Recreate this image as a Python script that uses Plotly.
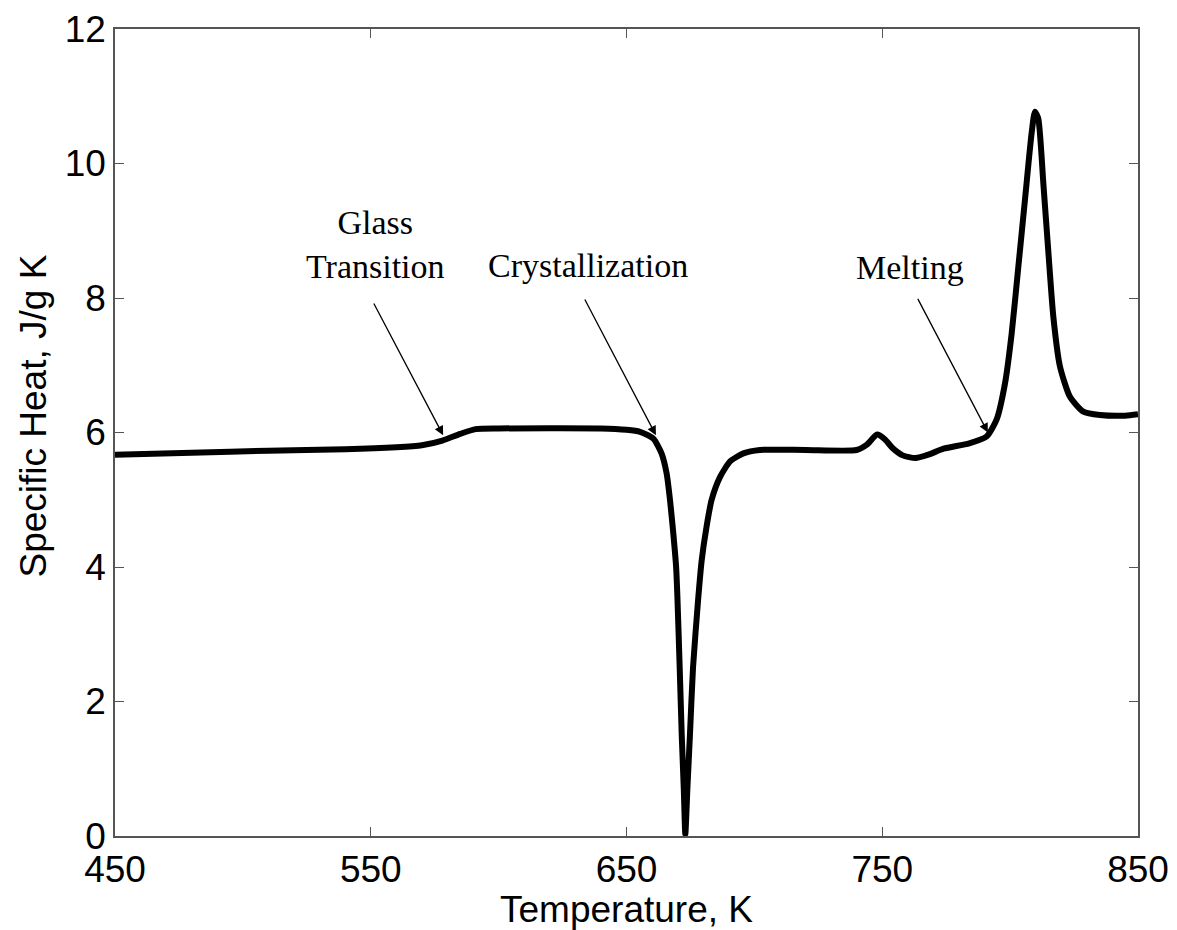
import plotly.graph_objects as go

temperature = [450, 480, 510, 540, 560, 570, 578, 585, 591, 600, 640, 650, 655.3, 660.5, 663.7,
               665.7, 667.0, 668.3, 669.4, 669.9, 670.8, 671.6, 672.4, 673, 673.8, 674.8, 676,
               678.1, 679.4, 681.3, 683.3, 686.6, 690.5, 695.7, 702.2, 720, 740, 744, 748, 751,
               754, 758, 763, 768, 774, 784, 790.8, 794.7, 798.0, 800.6, 803.2, 805.8, 808.4,
               809.7, 811.0, 813.0, 814.9, 816.9, 819.5, 823.4, 828.6, 835.1, 845, 850]
specific_heat = [5.67, 5.70, 5.73, 5.75, 5.78, 5.81, 5.88, 5.98, 6.05, 6.06, 6.06, 6.04, 6.01, 5.91,
                 5.69, 5.39, 5.0, 4.50, 4.0, 3.56, 2.5, 1.5, 0.7, 0.03, 0.7, 1.5, 2.5,
                 3.56, 4.10, 4.60, 5.0, 5.34, 5.57, 5.69, 5.74, 5.74, 5.74, 5.82, 5.97, 5.9,
                 5.77, 5.66, 5.62, 5.67, 5.76, 5.84, 5.94, 6.19, 6.73, 7.47, 8.46, 9.46, 10.45,
                 10.77, 10.67, 9.70, 8.71, 7.72, 6.98, 6.53, 6.31, 6.26, 6.25, 6.27]

x_ticks = [450, 550, 650, 750, 850]
y_ticks = [0, 2, 4, 6, 8, 10, 12]

labels = ["Glass<br>Transition", "Crystallization", "Melting"]
label_x = [551.7, 634.9, 760.9]
label_y = [8.8, 8.49, 8.46]
arrow_tip_x = [578.3, 661.5, 791.3]
arrow_tip_y = [5.96, 5.96, 6.0]
arrow_tail_x = [550.9, 633.4, 763.6]
arrow_tail_y = [7.94, 8.0, 8.01]

SANS = "Liberation Sans, Arial, sans-serif"
SERIF = "Liberation Serif, Times New Roman, serif"

fig = go.Figure()
fig.add_trace(go.Scatter(
    x=temperature, y=specific_heat, mode="lines",
    line=dict(color="black", width=6, shape="spline", smoothing=0.6),
    showlegend=False, hoverinfo="skip"))

annotations = []
for tx, ty, ax, ay in zip(arrow_tip_x, arrow_tip_y, arrow_tail_x, arrow_tail_y):
    annotations.append(dict(x=tx, y=ty, ax=ax, ay=ay, xref="x", yref="y", axref="x", ayref="y",
                            text="", showarrow=True, arrowhead=2, arrowsize=1.4, arrowwidth=1.3,
                            arrowcolor="black"))
for t, lx, ly in zip(labels, label_x, label_y):
    annotations.append(dict(x=lx, y=ly, xref="x", yref="y", text=t, showarrow=False,
                            xanchor="center", yanchor="middle",
                            font=dict(family=SERIF, size=34, color="black")))
annotations.append(dict(x=-0.080, y=0.520, xref="paper", yref="paper", text="Specific Heat, J/g K",
                        showarrow=False, textangle=-90, xanchor="center", yanchor="middle",
                        font=dict(family=SANS, size=37, color="black")))

axis_common = dict(showline=True, linecolor="#555555", linewidth=1.5, mirror="allticks",
                   ticks="inside", ticklen=9, tickwidth=1.3, tickcolor="#555555",
                   showgrid=False, zeroline=False,
                   tickfont=dict(family=SANS, size=37, color="black"))

fig.update_layout(
    width=1177, height=930,
    margin=dict(l=115, r=39, t=29, b=94),
    paper_bgcolor="white", plot_bgcolor="white",
    xaxis=dict(range=[450, 850], tickvals=x_ticks, ticktext=[str(v) for v in x_ticks],
               title=dict(text="Temperature, K", standoff=2,
                          font=dict(family=SANS, size=37, color="black")),
               **axis_common),
    yaxis=dict(range=[0, 12], tickvals=y_ticks, ticktext=[str(v) for v in y_ticks],
               **axis_common),
    annotations=annotations,
)
fig.update_xaxes(automargin=False)
fig.update_yaxes(automargin=False)
fig.write_html("out.html")
